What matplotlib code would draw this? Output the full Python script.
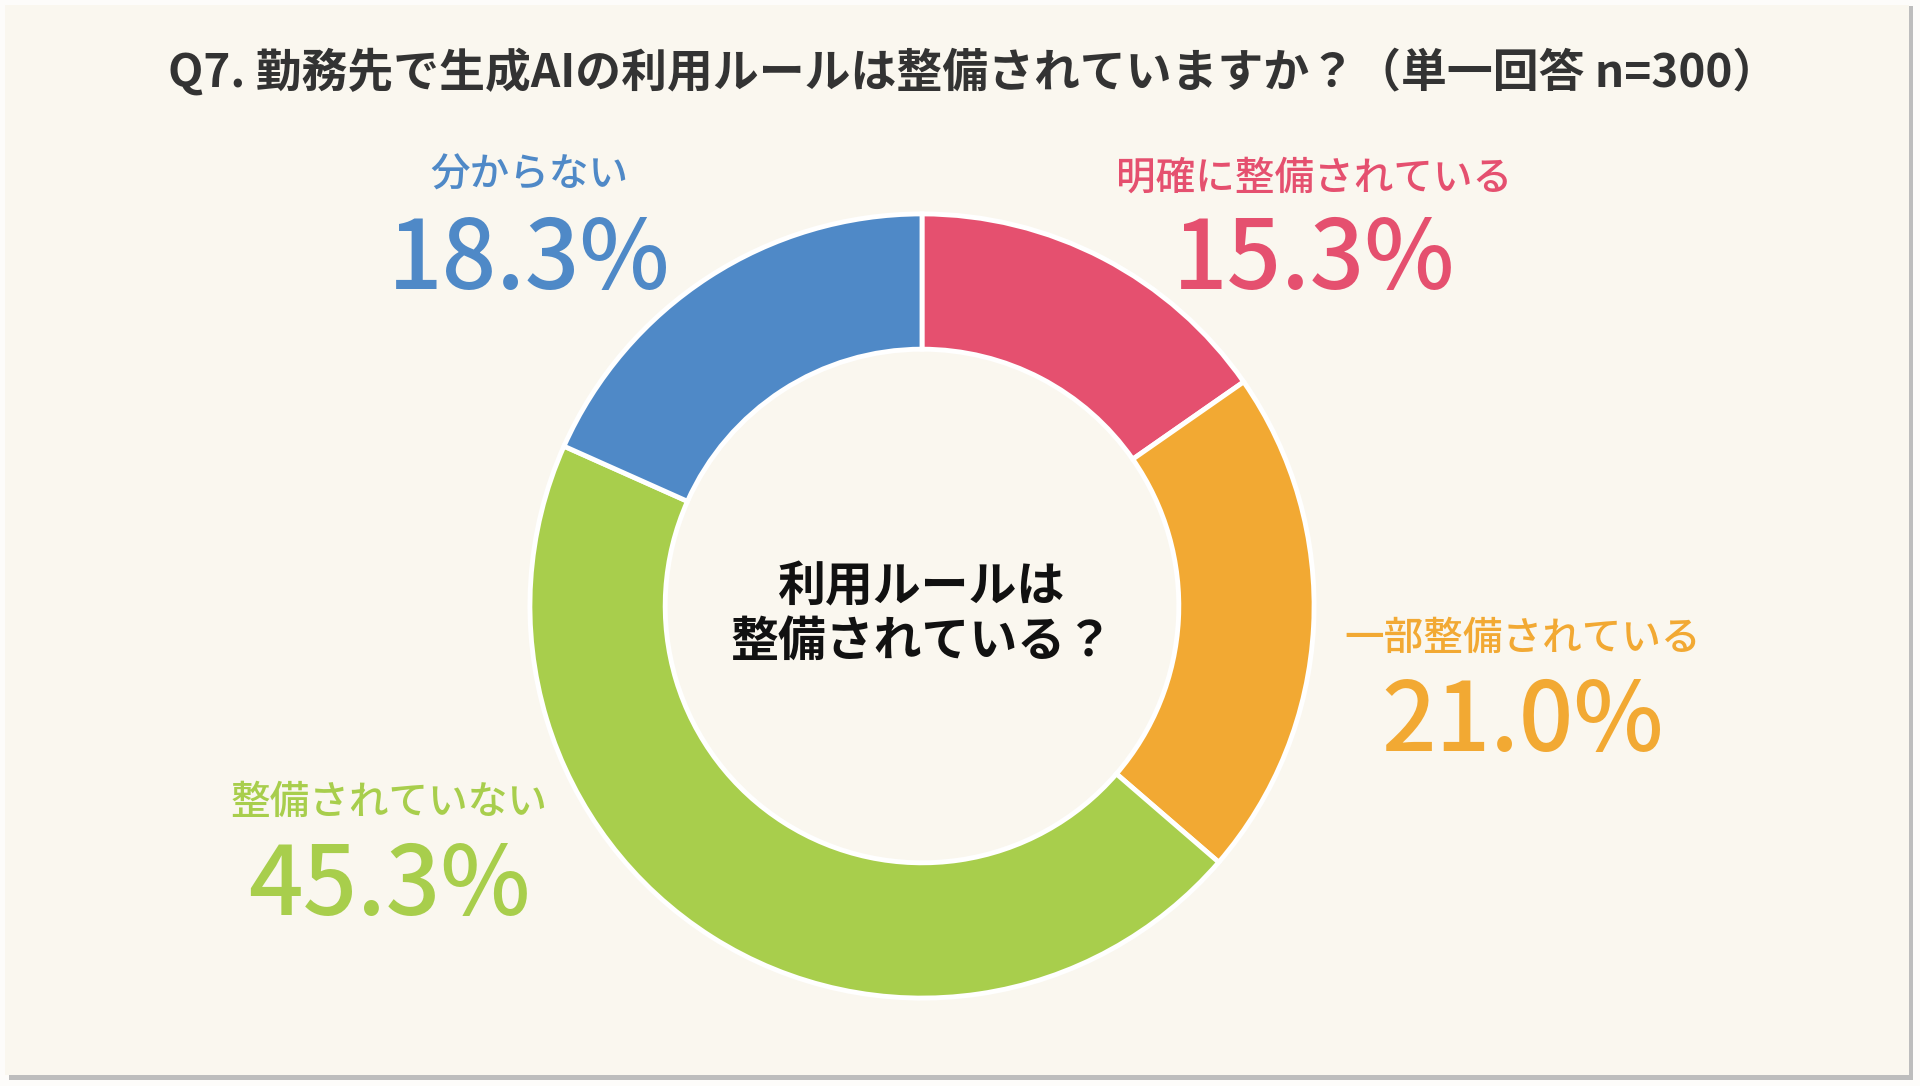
import matplotlib
matplotlib.use("Agg")
import matplotlib.pyplot as plt
from matplotlib.patches import Rectangle

plt.rcParams['font.family'] = ['Noto Sans CJK JP', 'DejaVu Sans']

# data
categories = ["明確に整備されている", "一部整備されている", "整備されていない", "分からない"]
values = [15.3, 21.0, 45.3, 18.3]
colors = ["#E5506F", "#F2A933", "#A8CE4C", "#4F89C7"]
title = "Q7. 勤務先で生成AIの利用ルールは整備されていますか？（単一回答 n=300）"
center_text = "利用ルールは\n整備されている？"

W, H = 1920, 1086
BG = "#FAF7EF"

fig = plt.figure(figsize=(W / 100, H / 100), dpi=100)
fig.patch.set_facecolor("#FDFCFA")

# card with shadow
fig.patches.append(Rectangle((9 / W, 1 - 1080 / H), 1904 / W, 1074 / H,
                             transform=fig.transFigure, facecolor="#BDBDBD",
                             edgecolor="none", zorder=-2))
fig.patches.append(Rectangle((5 / W, 1 - 1075 / H), 1904 / W, 1070 / H,
                             transform=fig.transFigure, facecolor=BG,
                             edgecolor="none", zorder=-1))

# donut
cx, cy, r = 922, 606, 396
ax = fig.add_axes([(cx - r) / W, (H - cy - r) / H, 2 * r / W, 2 * r / H])
ax.set_zorder(2)
ax.patch.set_alpha(0)
ax.pie(values, colors=colors, startangle=90, counterclock=False, radius=1,
       wedgeprops=dict(width=0.345, edgecolor="white", linewidth=3.5))
ax.set_xlim(-1.01, 1.01)
ax.set_ylim(-1.01, 1.01)
ax.set_aspect("equal")
ax.axis("off")

fig.text(922 / W, 1 - 614 / H, center_text, ha="center", va="center",
         fontsize=34.5, fontweight="bold", color="#111111", linespacing=1.15,
         zorder=3)

# title
fig.text(973 / W, 1 - 73 / H, title, ha="center", va="center", fontsize=33,
         fontweight="bold", color="#333333")

# labels: (x, y of name), (y of percent)
label_pos = [(1314, 179, 261), (1523, 639, 724), (389, 803, 887), (529, 176, 261)]
for name, val, col, (lx, ly, py) in zip(categories, values, colors, label_pos):
    fig.text(lx / W, 1 - ly / H, name, ha="center", va="center",
             fontsize=28.5, fontweight="medium", color=col)
    fig.text(lx / W, 1 - py / H, f"{val:.1f}%", ha="center", va="center",
             fontsize=69, fontweight="medium", color=col)

fig.savefig("out.png", dpi=100, facecolor=fig.get_facecolor())
